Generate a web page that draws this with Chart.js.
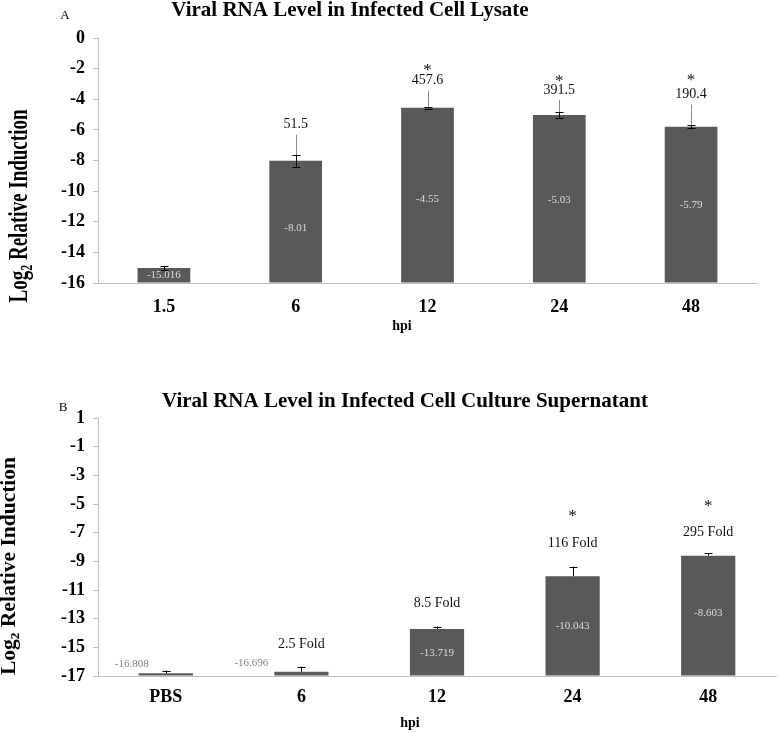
<!DOCTYPE html>
<html><head><meta charset="utf-8">
<script src="https://cdn.jsdelivr.net/npm/chart.js@4.4.1/dist/chart.umd.min.js"></script>
<style>
html,body{margin:0;padding:0;background:#fff;}
#wrap{position:relative;width:779px;height:736px;overflow:hidden;}
canvas{position:absolute;left:0;}
#c1{top:0;} #c2{top:365px;}
</style></head><body>
<div id="wrap"><canvas id="c1" width="779" height="345"></canvas><canvas id="c2" width="779" height="371"></canvas></div>
<script>
// ---- Data: panel A (cell lysate) ----
const lysateCategories = ['1.5', '6', '12', '24', '48'];
const lysateValues = [-15.016, -8.01, -4.55, -5.03, -5.79];
const lysateErrors = [0.13, 0.4, 0.06, 0.18, 0.1];
const lysateFoldLabels = ['', '51.5', '457.6', '391.5', '190.4'];
const lysateSignificant = [false, false, true, true, true];
const lysateValueLabels = ['-15.016', '-8.01', '-4.55', '-5.03', '-5.79'];
const lysateTicks = [-16, -14, -12, -10, -8, -6, -4, -2, 0];

// ---- Data: panel B (culture supernatant) ----
const supCategories = ['PBS', '6', '12', '24', '48'];
const supValues = [-16.808, -16.696, -13.719, -10.043, -8.603];
const supErrors = [0.18, 0.35, 0.16, 0.67, 0.16];
const supFoldLabels = ['', '2.5 Fold', '8.5 Fold', '116 Fold', '295 Fold'];
const supSignificant = [false, false, false, true, true];
const supValueLabels = ['-16.808', '-16.696', '-13.719', '-10.043', '-8.603'];
const supTicks = [-17, -15, -13, -11, -9, -7, -5, -3, -1, 1];

const SERIF = '"Liberation Serif", "Times New Roman", serif';
const BAR = '#595959';
const AXIS = '#bfbfbf';

function drawYTitle(ctx, baseX, cy, fontPx, targetLen, perpScale) {
  ctx.save();
  ctx.translate(baseX, cy);
  ctx.rotate(-Math.PI / 2);
  const fMain = 'bold ' + fontPx + 'px ' + SERIF;
  const fSub = 'bold ' + Math.round(fontPx * 0.62) + 'px ' + SERIF;
  ctx.font = fMain; const w1 = ctx.measureText('Log').width;
  ctx.font = fSub; const w2 = ctx.measureText('2').width;
  ctx.font = fMain; const w3 = ctx.measureText(' Relative Induction').width;
  const total = w1 + w2 + w3;
  ctx.scale(targetLen / total, perpScale);
  ctx.fillStyle = '#000';
  ctx.textBaseline = 'alphabetic';
  ctx.textAlign = 'left';
  let x = -total / 2;
  ctx.font = fMain; ctx.fillText('Log', x, 0); x += w1;
  ctx.font = fSub; ctx.fillText('2', x, fontPx * 0.2); x += w2;
  ctx.font = fMain; ctx.fillText(' Relative Induction', x, 0);
  ctx.restore();
}

function makeAnnot(cfg) {
  return {
    id: 'annot',
    afterDraw(chart) {
      const ctx = chart.ctx;
      const meta = chart.getDatasetMeta(0);
      const ys = chart.scales.y;
      ctx.save();
      // titles
      ctx.fillStyle = '#000';
      ctx.textAlign = 'center';
      ctx.textBaseline = 'alphabetic';
      ctx.font = 'bold 21px ' + SERIF;
      ctx.fillText(cfg.title, cfg.titleX, cfg.titleY);
      ctx.font = '13px ' + SERIF;
      ctx.fillText(cfg.panel, cfg.panelX, cfg.panelY);
      ctx.font = 'bold 14px ' + SERIF;
      ctx.fillText('hpi', cfg.hpiX, cfg.hpiY);
      drawYTitle(ctx, cfg.yt.x, cfg.yt.cy, cfg.yt.font, cfg.yt.len, cfg.yt.perp);

      cfg.values.forEach((v, i) => {
        const bar = meta.data[i];
        const x = bar.x;
        const top = ys.getPixelForValue(v);
        const base = ys.getPixelForValue(cfg.base);
        const e = cfg.errors[i];
        const yp = ys.getPixelForValue(v + e);
        const ym = cfg.bothErr ? ys.getPixelForValue(v - e) : top;
        // fold label + star
        if (cfg.fold[i]) {
          const ly = top - cfg.foldOffset[i];
          if (cfg.leader) {
            ctx.strokeStyle = '#8a8a8a'; ctx.lineWidth = 1;
            ctx.beginPath(); ctx.moveTo(Math.round(x) + 0.5, ly + 10); ctx.lineTo(Math.round(x) + 0.5, yp); ctx.stroke();
          }
          ctx.fillStyle = '#111';
          ctx.font = '14px ' + SERIF;
          ctx.textAlign = 'center'; ctx.textBaseline = 'middle';
          ctx.fillText(cfg.fold[i], x, ly);
        }
        if (cfg.stars[i]) {
          const sy = top - cfg.foldOffset[i] - cfg.starOffset[i];
          ctx.fillStyle = '#111';
          ctx.font = '17px ' + SERIF;
          ctx.textAlign = 'center'; ctx.textBaseline = 'alphabetic';
          ctx.fillText('*', x, sy + 17 * 0.5);
        }
        // error bar
        ctx.strokeStyle = '#000'; ctx.lineWidth = 1;
        const xr = Math.round(x) + 0.5;
        ctx.beginPath();
        ctx.moveTo(xr, yp); ctx.lineTo(xr, ym);
        ctx.moveTo(xr - 4, Math.round(yp) + 0.5); ctx.lineTo(xr + 4, Math.round(yp) + 0.5);
        if (cfg.bothErr) { ctx.moveTo(xr - 4, Math.round(ym) + 0.5); ctx.lineTo(xr + 4, Math.round(ym) + 0.5); }
        ctx.stroke();
        // value label
        ctx.font = '11px ' + SERIF;
        ctx.textBaseline = 'middle';
        ctx.textAlign = 'center';
        if (cfg.inner[i] === 'left') {
          ctx.fillStyle = '#808080';
          ctx.fillText(cfg.valueLabels[i], x + cfg.innerDx[i], top - 9);
        } else {
          ctx.fillStyle = '#dcdcdc';
          ctx.fillText(cfg.valueLabels[i], x, (top + base) / 2 + cfg.innerDy[i]);
        }
      });
      ctx.restore();
    }
  };
}

function makeChart(id, cats, vals, ticks, yMin, yMax, pad, xH, xPad, annotCfg) {
  return new Chart(document.getElementById(id), {
    type: 'bar',
    data: {
      labels: cats,
      datasets: [{
        data: vals,
        base: yMin,
        backgroundColor: BAR,
        borderWidth: 0,
        barPercentage: 0.4,
        categoryPercentage: 1.0
      }]
    },
    options: {
      responsive: false,
      animation: false,
      devicePixelRatio: 1,
      layout: { padding: pad },
      plugins: { legend: { display: false }, tooltip: { enabled: false }, title: { display: false } },
      scales: {
        x: {
          grid: { display: false, drawTicks: false },
          border: { display: true, color: AXIS, width: 1 },
          ticks: { font: { family: SERIF, size: 18, weight: 'bold' }, color: '#000', padding: xPad, maxRotation: 0 },
          afterFit(s) { s.height = xH; }
        },
        y: {
          min: yMin, max: yMax,
          afterBuildTicks(s) { s.ticks = ticks.map(v => ({ value: v })); },
          grid: { drawOnChartArea: false, drawTicks: true, tickLength: 5, color: AXIS },
          border: { display: true, color: AXIS, width: 1 },
          ticks: { font: { family: SERIF, size: 18, weight: 'bold' }, color: '#000', padding: 8, callback: v => String(v) },
          afterFit(s) { s.width = 98; }
        }
      }
    },
    plugins: [makeAnnot(annotCfg)]
  });
}

makeChart('c1', lysateCategories, lysateValues, lysateTicks, -16, 0,
  { top: 38, right: 22, left: 0, bottom: 0 }, 62, 14, {
    title: 'Viral RNA Level in Infected Cell Lysate', titleX: 350, titleY: 16,
    panel: 'A', panelX: 65, panelY: 19,
    hpiX: 402, hpiY: 330,
    yt: { x: 27, cy: 206, font: 27, len: 193, perp: 1.0 },
    values: lysateValues, errors: lysateErrors, base: -16, bothErr: true, leader: true,
    fold: lysateFoldLabels, stars: lysateSignificant,
    foldOffset: [0, 36, 27, 25, 32], starOffset: [0, 0, 14, 13, 18],
    valueLabels: lysateValueLabels,
    inner: ['mid', 'mid', 'mid', 'mid', 'mid'], innerDx: [0, 0, 0, 0, 0], innerDy: [0, 6, 4, 1, 0]
  });

makeChart('c2', supCategories, supValues, supTicks, -17, 1,
  { top: 53, right: 3, left: 0, bottom: 0 }, 60, 11, {
    title: 'Viral RNA Level in Infected Cell Culture Supernatant', titleX: 405, titleY: 42,
    panel: 'B', panelX: 63, panelY: 46,
    hpiX: 410, hpiY: 362,
    yt: { x: 15, cy: 201, font: 21, len: 218, perp: 1.0 },
    values: supValues, errors: supErrors, base: -17, bothErr: false, leader: false,
    fold: supFoldLabels, stars: supSignificant,
    foldOffset: [0, 27, 26, 33, 23], starOffset: [0, 0, 0, 31, 30],
    valueLabels: supValueLabels,
    inner: ['left', 'left', 'mid', 'mid', 'mid'], innerDx: [-34, -50, 0, 0, 0], innerDy: [0, 0, 1, 0, -3]
  });
</script>
</body></html>
